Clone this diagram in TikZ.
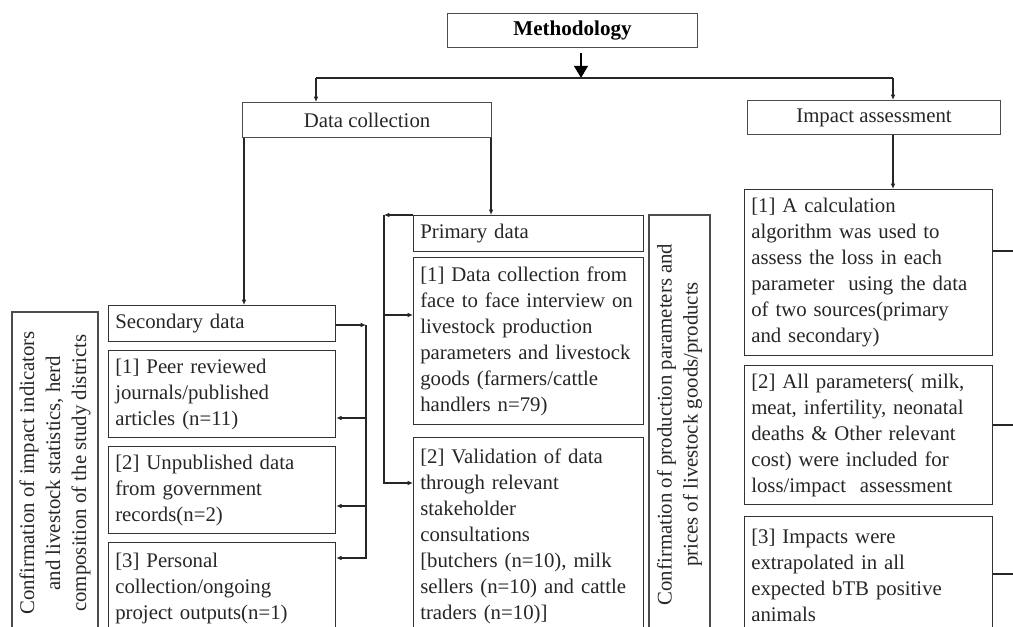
\documentclass[tikz,border=0pt]{standalone}
\usepackage{fontspec}
\setmainfont{Liberation Serif}
\usetikzlibrary{arrows.meta,calc}
\begin{document}
\begin{tikzpicture}[
  x=0.75pt, y=-0.75pt,
  every node/.style={font=\fontsize{15.6}{19.5}\selectfont, text=black!85},
  box/.style={draw=black!80, line width=0.9pt, anchor=north west, align=left,
    inner xsep=5pt, inner ysep=4pt},
  headbox/.style={draw=black!70, line width=0.8pt, anchor=north west, align=center, inner sep=0pt},
  sidebox/.style={draw=black!70, line width=0.8pt, rotate=90, align=center, inner sep=0pt},
  link/.style={draw=black!85, line width=0.9pt, -{Latex[length=4pt,width=3.5pt]}},
  wire/.style={draw=black!85, line width=0.9pt},
  bigarrow/.style={draw=black, line width=2pt, -{Triangle[length=9pt,width=10pt]}}
]
\useasboundingbox (0,0) rectangle (1013,627);
\clip (0,0) rectangle (1013,627);

\node[headbox, minimum width=187.5pt, minimum height=25.5pt, font=\fontsize{15.8}{19.5}\selectfont\bfseries, text=black] (meth) at (447,13) {Methodology};
\node[headbox, minimum width=186.75pt, minimum height=26.25pt] (datacol) at (242,102) {Data collection};
\node[headbox, minimum width=189.75pt, minimum height=25.5pt] (impact) at (747,100) {Impact assessment};

\node[box, text width=160.25pt, minimum height=27pt] (secdata) at (108,305) {Secondary data};
\node[box, text width=160.25pt, minimum height=65.25pt] (sec1) at (108,350) {[1] Peer reviewed\\journals/published\\articles (n=11)};
\node[box, text width=160.25pt, minimum height=65.25pt] (sec2) at (108,446) {[2] Unpublished data\\from government\\records(n=2)};
\node[box, text width=160.25pt, minimum height=69pt] (sec3) at (108,542) {[3] Personal\\collection/ongoing\\project outputs(n=1)};

\node[box, text width=162.5pt, minimum height=27pt] (primdata) at (413,215) {Primary data};
\node[box, text width=162.5pt, minimum height=125.25pt] (prim1) at (413,257) {[1] Data collection from\\face to face interview on\\livestock production\\parameters and livestock\\goods (farmers/cattle\\handlers n=79)};
\node[box, text width=162.5pt, minimum height=147.75pt] (prim2) at (413,437) {[2] Validation of data\\through relevant\\stakeholder\\consultations\\{[butchers} (n=10), milk\\sellers (n=10) and cattle\\traders (n=10)]};

\node[box, text width=176pt, minimum height=124.5pt] (imp1) at (744,189) {[1] A calculation\\algorithm was used to\\assess the loss in each\\parameter~ using the data\\of two sources(primary\\and secondary)};
\node[box, text width=176pt, minimum height=104.25pt] (imp2) at (744,365) {[2] All parameters( milk,\\meat, infertility, neonatal\\deaths \& Other relevant\\cost) were included for\\loss/impact~ assessment};
\node[box, text width=176pt, minimum height=88.5pt] (imp3) at (744,516) {[3] Impacts were\\extrapolated in all\\expected bTB positive\\animals};

\node[sidebox, minimum width=241.5pt, minimum height=64.5pt] (confstats) at (55,473) {Confirmation of impact indicators\\and livestock statistics, herd\\composition of the study districts};
\node[sidebox, minimum width=314.25pt, minimum height=45.75pt] (confprices) at (679.5,424.5) {Confirmation of production parameters and\\prices of livestock goods/products};

\coordinate (split) at (581,78);
\coordinate (lbend) at (316,78);
\coordinate (rbend) at (893,78);
\coordinate (dcl) at ($(datacol.south west)+(2,0)$);
\coordinate (dcr) at ($(datacol.south east)+(-1,0)$);
\coordinate (sbus) at (366,325);
\coordinate (pbus) at (384,215);

\draw[bigarrow] ($(meth.south -| split)+(0,5)$) -- (split);
\draw[wire, line width=1.5pt] (lbend) -- (rbend);
\draw[link] (lbend) -- (lbend |- datacol.north);
\draw[link] (rbend) -- (rbend |- impact.north);
\draw[link] (dcl) -- (dcl |- secdata.north);
\draw[link] (dcr) -- (dcr |- primdata.north);
\draw[link] (rbend |- impact.south) -- (rbend |- imp1.north);

\draw[link] (secdata.east |- sbus) -- (sbus);
\draw[link] (sbus) |- ($(sec1.north east)+(0,68)$);
\draw[link] (sbus) |- ($(sec2.north east)+(0,60)$);
\draw[link] (sbus) |- ($(sec3.north east)+(0,16)$);

\draw[link] (primdata.north west) -- (pbus);
\draw[link] (pbus) |- ($(prim1.north west)+(0,58)$);
\draw[link] (pbus) |- ($(prim2.north west)+(0,46)$);

\draw[wire] ($(imp1.north east)+(0,62)$) -- ++(25,0);
\draw[wire] ($(imp2.north east)+(0,60)$) -- ++(25,0);
\draw[wire] ($(imp3.north east)+(0,58)$) -- ++(25,0);

\end{tikzpicture}
\end{document}
